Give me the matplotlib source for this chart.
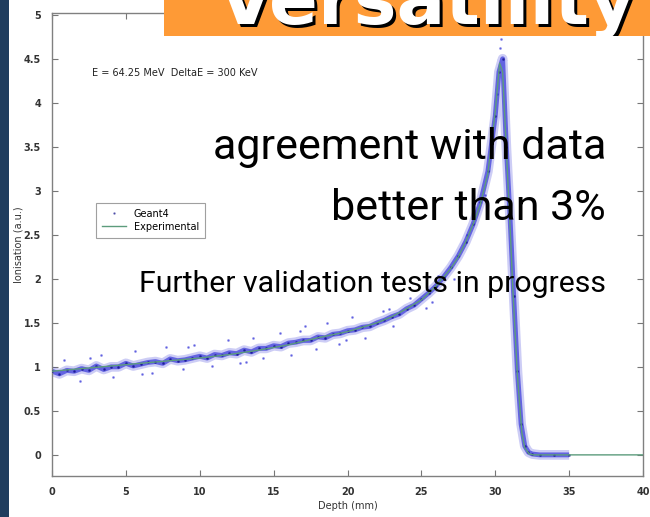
import numpy as np
import matplotlib
matplotlib.use("Agg")
import matplotlib.pyplot as plt
from matplotlib.patches import Rectangle

# Geant4 simulated points (depth mm, ionisation a.u.)
g4_depth = [0, 0.5, 1, 1.5, 2, 2.5, 3, 3.5, 4, 4.5, 5, 5.5, 6, 6.5, 7, 7.5, 8, 8.5, 9, 9.5,
            10, 10.5, 11, 11.5, 12, 12.5, 13, 13.5, 14, 14.5, 15, 15.5, 16, 16.5, 17, 17.5,
            18, 18.5, 19, 19.5, 20, 20.5, 21, 21.5, 22, 22.5, 23, 23.5, 24, 24.5, 25, 25.5,
            26, 26.5, 27, 27.5, 28, 28.5, 29, 29.5, 30, 30.25, 30.5, 30.75, 31, 31.25, 31.5,
            31.75, 32, 32.25, 32.5, 33, 34, 35]
g4_val = [0.95, 0.92, 0.96, 0.95, 0.98, 0.96, 1.01, 0.97, 1.0, 1.0, 1.04, 1.01, 1.03, 1.05, 1.06, 1.04, 1.09, 1.07, 1.08, 1.1,
          1.12, 1.1, 1.14, 1.13, 1.16, 1.15, 1.19, 1.17, 1.21, 1.21, 1.24, 1.23, 1.27, 1.28, 1.3, 1.3,
          1.34, 1.33, 1.37, 1.38, 1.41, 1.42, 1.45, 1.46, 1.5, 1.53, 1.57, 1.6, 1.66, 1.7, 1.77, 1.84,
          1.92, 2.02, 2.13, 2.26, 2.42, 2.62, 2.87, 3.22, 3.85, 4.35, 4.5, 3.5, 2.7, 1.8, 0.95,
          0.35, 0.1, 0.03, 0.01, 0.0, 0.0, 0.0]

# scattered Geant4 outliers
g4_out_depth = [0.8, 1.9, 3.3, 4.1, 5.6, 6.8, 7.7, 8.9, 9.6, 10.8, 11.9, 12.7, 13.6, 14.3, 15.4,
                16.2, 17.1, 17.9, 18.6, 19.4, 20.3, 21.2, 22.4, 23.1, 24.2, 25.3, 26.1, 27.2, 28.1,
                29.3, 30.1, 30.3, 30.4, 2.6, 6.1, 9.2, 13.1, 16.8, 19.9, 22.8, 25.7]
g4_out_val = [1.08, 0.84, 1.13, 0.88, 1.18, 0.93, 1.22, 0.97, 1.25, 1.01, 1.3, 1.04, 1.33, 1.1, 1.38,
              1.14, 1.46, 1.2, 1.5, 1.26, 1.57, 1.33, 1.63, 1.46, 1.78, 1.67, 2.03, 2.0, 2.5,
              2.95, 4.1, 4.62, 4.72, 1.1, 0.92, 1.22, 1.06, 1.41, 1.3, 1.66, 1.74]

# Experimental curve
exp_depth = [0, 2, 4, 6, 8, 10, 12, 14, 16, 18, 20, 22, 23, 24, 25, 26, 27, 27.5, 28, 28.5,
             29, 29.5, 30, 30.3, 30.5, 30.8, 31.0, 31.2, 31.5, 31.8, 32.0, 32.3, 32.6, 33, 35, 40]
exp_val = [0.95, 0.98, 1.01, 1.04, 1.07, 1.1, 1.14, 1.19, 1.25, 1.33, 1.4, 1.5, 1.57, 1.66, 1.76,
           1.92, 2.12, 2.25, 2.42, 2.62, 2.85, 3.2, 3.9, 4.45, 4.35, 3.3, 2.6, 1.85, 0.9, 0.25,
           0.08, 0.01, 0, 0, 0, 0]

xticks = [0, 5, 10, 15, 20, 25, 30, 35, 40]
yticks = [0, 0.5, 1, 1.5, 2, 2.5, 3, 3.5, 4, 4.5, 5]

big_font = ['Roboto', 'DejaVu Sans']

fig = plt.figure(figsize=(6.5, 5.17), dpi=100)
fig.patch.set_facecolor('white')

# dark strip on the left edge of the slide
fig.patches.append(Rectangle((0, 0), 9 / 650, 1, transform=fig.transFigure,
                             facecolor='#1f3d5e', edgecolor='none', zorder=0))

ax = fig.add_axes([52 / 650, 1 - 476 / 517, 591 / 650, 463 / 517])
ax.set_xlim(0, 40)
ax.set_ylim(-0.24, 5.02)

blue = '#1c1cd4'
green = '#5c9c7c'
ax.plot(g4_depth, g4_val, color=blue, lw=7, alpha=0.22, solid_capstyle='butt', zorder=2)
ax.plot(g4_depth, g4_val, color=blue, lw=3.5, alpha=0.6, solid_capstyle='butt', zorder=2)
ax.plot(g4_out_depth, g4_out_val, ls='none', marker='.', ms=2, color=blue, alpha=0.45, zorder=2)
g4_line, = ax.plot(g4_depth, g4_val, ls='none', marker='.', ms=2, color='#10108a', alpha=0.6, zorder=3)
exp_line, = ax.plot(exp_depth, exp_val, color=green, lw=1.0, zorder=4)

ax.set_xticks(xticks)
ax.set_xticklabels([str(t) for t in xticks])
ax.set_yticks(yticks)
ax.set_yticklabels([('%g' % t) for t in yticks])
ax.tick_params(direction='in', length=4, width=0.8, colors='#777777', top=True, right=True,
               labelsize=7, labelcolor='#333333', pad=8)
for lab in ax.get_xticklabels() + ax.get_yticklabels():
    lab.set_fontweight('bold')
for sp in ax.spines.values():
    sp.set_color('#808080')
    sp.set_linewidth(1.0)

ax.set_xlabel('Depth (mm)', fontsize=7, color='#333333', labelpad=3)
ax.set_ylabel('Ionisation (a.u.)', fontsize=7, color='#333333')
ax.yaxis.set_label_coords(-29 / 591, 0.5)

ax.text(2.7, 4.34, 'E = 64.25 MeV  DeltaE = 300 KeV', fontsize=7, color='#222222', va='center')

leg = ax.legend([g4_line, exp_line], ['Geant4', 'Experimental'], loc='upper left',
                bbox_to_anchor=(0.066, 0.60), fontsize=7, fancybox=False, frameon=True,
                handlelength=2.5, borderpad=0.6, labelspacing=0.3, markerscale=0.7)
leg.get_frame().set_edgecolor('#888888')
leg.get_frame().set_linewidth(0.8)

# overlay slide text
fig.text(606 / 650, 1 - 148 / 517, 'agreement with data', fontsize=31, family=big_font,
         ha='right', va='center', color='black', zorder=10)
fig.text(606 / 650, 1 - 209 / 517, 'better than 3%', fontsize=31, family=big_font,
         ha='right', va='center', color='black', zorder=10)
fig.text(606 / 650, 1 - 284 / 517, 'Further validation tests in progress', fontsize=21.8,
         family=big_font, ha='right', va='center', color='black', zorder=10)

# orange title banner, clipped at the top of the slide
bx = fig.add_axes([164 / 650, 1 - 36 / 517, 486 / 650, 36 / 517], zorder=5)
bx.set_axis_off()
bx.add_patch(Rectangle((0, 0), 1, 1, transform=bx.transAxes, facecolor='#fe9a36',
                       edgecolor='none', clip_on=False))
bx.text(0.11 + 0.006, 0.32 - 0.08, 'Versatility', transform=bx.transAxes, fontsize=52,
        fontweight='bold', color='black', ha='left', va='baseline', clip_on=True)
bx.text(0.11, 0.32, 'Versatility', transform=bx.transAxes, fontsize=52,
        fontweight='bold', color='white', ha='left', va='baseline', clip_on=True)

fig.savefig('out.png', dpi=100)
